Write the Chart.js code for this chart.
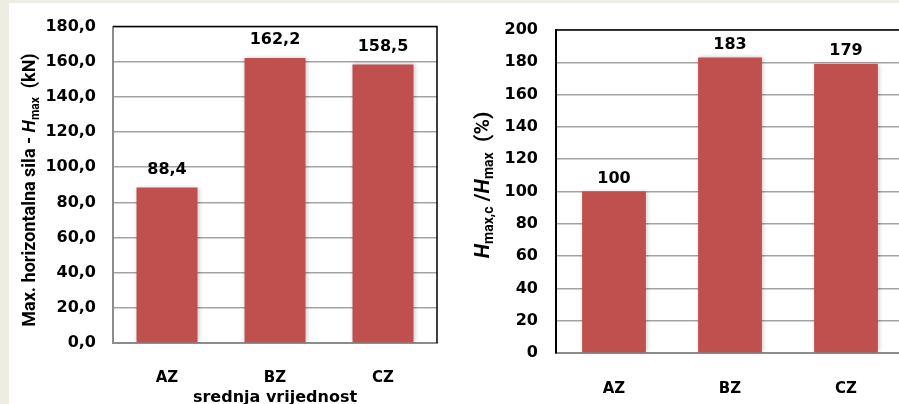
<!DOCTYPE html>
<html>
<head>
<meta charset="utf-8">
<script src="https://cdn.jsdelivr.net/npm/chart.js@4.4.1/dist/chart.umd.min.js"></script>
<style>
  html, body { margin: 0; padding: 0; overflow: hidden; width: 899px; height: 404px; background: #eeede3; }
  #sheet { position: absolute; left: 9px; top: 3px; width: 890px; height: 401px; background: #fff; }
  #left { position: absolute; left: 0; top: 0; }
  #right { position: absolute; left: 450px; top: 0; }
</style>
</head>
<body>
<div id="sheet"></div>
<canvas id="left" width="450" height="404"></canvas>
<canvas id="right" width="460" height="404"></canvas>
<script>
// podaci
const categories = ['AZ', 'BZ', 'CZ'];
const forceValues = [88.4, 162.2, 158.5];   // kN
const ratioValues = [100, 183, 179];        // %
const forceAxis = { min: 0, max: 180, step: 20 };
const ratioAxis = { min: 0, max: 200, step: 20 };
const xTitle = 'srednja vrijednost';

const FONT = "'DejaVu Sans', Verdana, sans-serif";
const TFONT = "Roboto, 'DejaVu Sans', sans-serif";
const BAR = '#c0504d';
const GRID = '#a3a3a3';

// naslovi osi (s indeksima)
const forceTitle = [
  { text: 'Max. horizontalna sila - ', font: 'bold 18px ' + TFONT },
  { text: 'H', font: 'italic bold 18px ' + TFONT },
  { text: 'max', font: 'bold 12px ' + TFONT, dy: 4 },
  { text: '  (kN)', font: 'bold 18px ' + TFONT }
];
const ratioTitle = [
  { text: 'H', font: 'italic bold 21px ' + TFONT },
  { text: 'max,c', font: 'bold 14px ' + TFONT, dy: 4 },
  { text: ' /', font: 'bold 21px ' + TFONT },
  { text: 'H', font: 'italic bold 21px ' + TFONT },
  { text: 'max', font: 'bold 14px ' + TFONT, dy: 4 },
  { text: '  (%)', font: 'bold 21px ' + TFONT }
];

function drawRotated(ctx, parts, cx, cy) {
  ctx.save();
  ctx.translate(cx, cy);
  ctx.rotate(-Math.PI / 2);
  ctx.fillStyle = '#000';
  ctx.textBaseline = 'alphabetic';
  ctx.textAlign = 'left';
  let total = 0;
  const widths = parts.map(p => { ctx.font = p.font; const w = ctx.measureText(p.text).width; total += w; return w; });
  let x = -total / 2;
  parts.forEach((p, i) => {
    ctx.font = p.font;
    ctx.fillText(p.text, x, 6 + (p.dy || 0));
    x += widths[i];
  });
  ctx.restore();
}

// sjena stupaca, oznake vrijednosti, okvir, naslov osi y
function makeDecor(opts) {
  return {
    id: 'decor',
    beforeDatasetsDraw(chart) {
      const ctx = chart.ctx;
      ctx.save();
      ctx.shadowColor = 'rgba(0,0,0,0.22)';
      ctx.shadowBlur = 4;
      ctx.shadowOffsetX = 1;
    },
    afterDatasetsDraw(chart) {
      const ctx = chart.ctx;
      ctx.restore();
      const meta = chart.getDatasetMeta(0);
      const data = chart.data.datasets[0].data;
      ctx.save();
      ctx.font = 'bold 16px ' + FONT;
      ctx.fillStyle = '#000';
      ctx.textAlign = 'center';
      ctx.textBaseline = 'bottom';
      meta.data.forEach((bar, i) => {
        ctx.fillText(opts.format(data[i]), bar.x, bar.y - opts.labelGap);
      });
      ctx.restore();
    },
    afterDraw(chart) {
      const ctx = chart.ctx;
      const a = chart.chartArea;
      ctx.save();
      ctx.strokeStyle = '#000';
      ctx.lineWidth = 1.5;
      ctx.beginPath();
      ctx.moveTo(a.left, a.top);
      ctx.lineTo(a.right, a.top);
      if (opts.rightEdge) ctx.lineTo(a.right, a.bottom);
      ctx.stroke();
      ctx.restore();
      drawRotated(ctx, opts.title, opts.titleX, opts.titleY);
    }
  };
}

function makeChart(id, values, axis, box, opts) {
  return new Chart(document.getElementById(id), {
    type: 'bar',
    data: {
      labels: categories,
      datasets: [{
        data: values,
        backgroundColor: BAR,
        borderWidth: 0,
        categoryPercentage: 1,
        barPercentage: opts.barPct
      }]
    },
    options: {
      responsive: false,
      devicePixelRatio: 1,
      animation: false,
      events: [],
      layout: { padding: { left: 0, right: box.padRight, top: box.top, bottom: 0 } },
      plugins: { legend: { display: false }, tooltip: { enabled: false } },
      scales: {
        x: {
          grid: { display: false },
          border: { display: true, color: '#8c8c8c', width: 2 },
          ticks: { color: '#000', font: { family: FONT, size: 15, weight: 'bold' }, padding: opts.xPad },
          title: opts.xTitle ? {
            display: true, text: opts.xTitle, color: '#000',
            font: { family: FONT, size: 16, weight: 'bold' }, padding: { top: 0, bottom: -3 }
          } : { display: false },
          afterFit(scale) { scale.height = 404 - box.bottom; }
        },
        y: {
          min: axis.min,
          max: axis.max,
          grid: { color: GRID, lineWidth: 1.5, drawTicks: false },
          border: { display: true, color: opts.yBorder, width: 2 },
          ticks: {
            stepSize: axis.step,
            color: '#000',
            font: { family: FONT, size: 16, weight: 'bold' },
            padding: opts.yPad,
            callback: opts.tickFormat
          },
          afterFit(scale) { scale.width = box.left; }
        }
      }
    },
    plugins: [makeDecor(opts)]
  });
}

makeChart('left', forceValues, forceAxis,
  { left: 113, padRight: 13, top: 17, bottom: 343 },
  {
    barPct: 0.565, xPad: 18, yPad: 17, yBorder: '#8c8c8c', xTitle: xTitle,
    tickFormat: v => v.toFixed(1).replace('.', ','),
    format: v => v.toFixed(1).replace('.', ','),
    labelGap: 10, rightEdge: true,
    title: forceTitle, titleX: 29, titleY: 190
  });

makeChart('right', ratioValues, ratioAxis,
  { left: 106, padRight: 6, top: 30, bottom: 353 },
  {
    barPct: 0.55, xPad: 19, yPad: 18, yBorder: '#000', xTitle: null,
    tickFormat: v => String(v),
    format: v => String(v),
    labelGap: 5, rightEdge: false,
    title: ratioTitle, titleX: 33, titleY: 185
  });
</script>
</body>
</html>
